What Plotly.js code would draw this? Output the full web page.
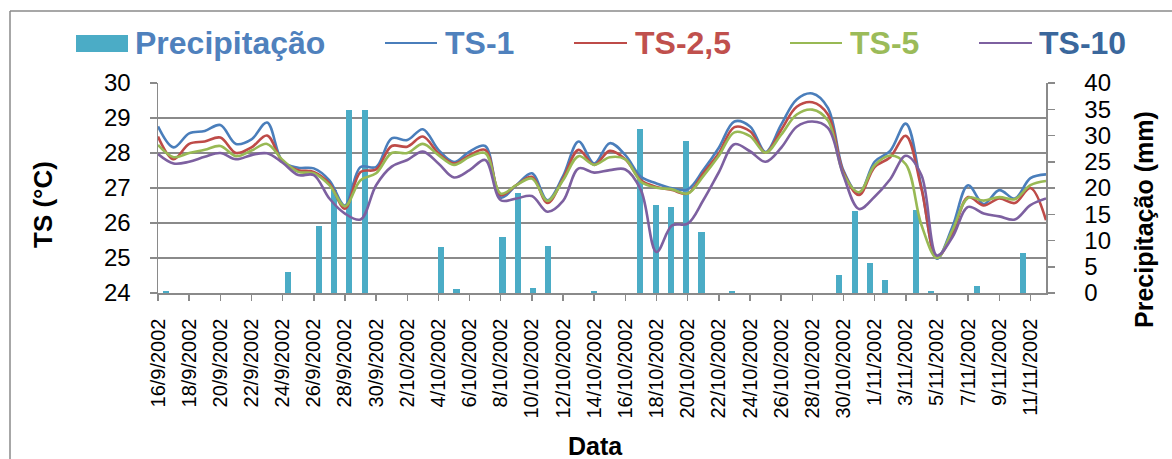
<!DOCTYPE html>
<html><head><meta charset="utf-8">
<script src="https://cdn.plot.ly/plotly-3.0.1.min.js"></script>
<style>html,body{margin:0;padding:0;background:#fff;} #chart{width:1172px;height:459px;}</style>
</head><body><div id="chart"></div>
<script>
const dates = [
 '16/9/2002','17/9/2002','18/9/2002','19/9/2002','20/9/2002','21/9/2002','22/9/2002','23/9/2002','24/9/2002','25/9/2002',
 '26/9/2002','27/9/2002','28/9/2002','29/9/2002','30/9/2002',
 '1/10/2002','2/10/2002','3/10/2002','4/10/2002','5/10/2002','6/10/2002','7/10/2002','8/10/2002','9/10/2002','10/10/2002',
 '11/10/2002','12/10/2002','13/10/2002','14/10/2002','15/10/2002','16/10/2002','17/10/2002','18/10/2002','19/10/2002','20/10/2002',
 '21/10/2002','22/10/2002','23/10/2002','24/10/2002','25/10/2002','26/10/2002','27/10/2002','28/10/2002','29/10/2002','30/10/2002','31/10/2002',
 '1/11/2002','2/11/2002','3/11/2002','4/11/2002','5/11/2002','6/11/2002','7/11/2002','8/11/2002','9/11/2002','10/11/2002','11/11/2002','12/11/2002'
];
const precipitacao = [
 0.4,0,0,0,0,0,0,0,4.0,0,
 12.8,19.6,34.8,34.8,0,
 0,0,0,8.8,0.7,0,0,10.7,19.0,1.0,
 9.0,0,0,0.4,0,0,31.2,16.7,16.3,29.0,
 11.7,0,0.4,0,0,0,0,0,0,3.4,15.6,
 5.7,2.5,0,15.8,0.4,0,0,1.4,0,0,7.6,0
];
const ts1 = [
 28.76,28.16,28.56,28.63,28.80,28.26,28.39,28.87,27.75,27.58,
 27.56,27.22,26.50,27.60,27.60,
 28.42,28.37,28.68,28.09,27.74,28.04,28.20,26.73,27.08,27.42,
 26.65,27.34,28.33,27.70,28.28,27.94,27.32,27.13,26.99,26.96,
 27.51,28.15,28.90,28.76,28.03,28.81,29.53,29.70,29.29,27.50,26.84,
 27.75,28.06,28.84,27.04,24.98,25.90,27.08,26.54,26.94,26.70,27.28,27.39
];
const ts25 = [
 28.47,27.82,28.26,28.33,28.44,28.00,28.16,28.50,27.75,27.51,
 27.46,27.13,26.41,27.46,27.53,
 28.20,28.18,28.47,27.99,27.70,27.94,28.09,26.80,27.08,27.32,
 26.57,27.27,28.09,27.66,28.06,27.82,27.22,27.03,26.94,26.84,
 27.42,27.99,28.74,28.62,28.01,28.66,29.32,29.45,29.10,27.45,26.80,
 27.60,27.88,28.49,26.99,25.02,25.70,26.74,26.50,26.70,26.57,27.00,26.08
];
const ts5 = [
 28.23,27.88,28.00,28.09,28.20,27.91,28.07,28.26,27.80,27.46,
 27.42,27.08,26.48,27.22,27.42,
 28.00,28.00,28.26,27.94,27.66,27.89,28.00,26.84,27.08,27.27,
 26.63,27.22,27.91,27.66,27.88,27.82,27.18,27.01,26.96,26.84,
 27.34,27.92,28.59,28.48,28.01,28.52,29.10,29.24,28.93,27.40,26.88,
 27.65,27.93,27.68,25.95,25.00,25.80,26.72,26.64,26.74,26.68,27.08,27.20
];
const ts10 = [
 27.97,27.70,27.75,27.89,28.00,27.82,27.94,27.99,27.72,27.37,
 27.37,26.70,26.27,26.10,27.08,
 27.61,27.80,28.04,27.70,27.30,27.51,27.80,26.65,26.70,26.77,
 26.32,26.63,27.56,27.44,27.51,27.53,26.94,25.17,25.93,25.98,
 26.65,27.45,28.25,28.05,27.75,28.15,28.75,28.90,28.72,27.35,26.40,
 26.75,27.25,27.92,27.37,25.07,25.60,26.46,26.27,26.19,26.10,26.51,26.70
];
const barName = 'Precipitação';
const seriesNames = ['TS-1','TS-2,5','TS-5','TS-10'];
const seriesValues = [ts1, ts25, ts5, ts10];
const tickLabels = dates.filter((d, i) => i % 2 === 0 && i < dates.length - 1);

// styling
const F = 'Arial, "Liberation Sans", sans-serif';
const GRID = '#8a8a8a';
const BAR = '#4BACC6';
const lineColors = ['#4A7EBB', '#BE4B48', '#98B954', '#7D60A0'];
const legendTextColors = ['#4F81BD', '#C0504D', '#9BBB59', '#3A679C'];
const L = 158, R = 1046, T = 83, B = 293;
const px = x => (x - L) / (R - L);
const py = y => (B - y) / (B - T);

const traces = [{
  type: 'bar', x: dates, y: precipitacao, xaxis: 'x', yaxis: 'y',
  marker: {color: BAR, line: {width: 0}}, width: 0.4, name: barName, showlegend: false, hoverinfo: 'x+y'
}];
seriesValues.forEach((vals, k) => {
  traces.push({
    type: 'scatter', mode: 'lines', x: dates, y: vals, xaxis: 'x2', yaxis: 'y2',
    name: seriesNames[k], showlegend: false,
    line: {color: lineColors[k], width: 2.6, shape: 'spline', smoothing: 1}
  });
});

const shapes = [
  {type: 'line', xref: 'paper', yref: 'paper', x0: px(10), x1: px(10), y0: py(11), y1: py(480), line: {color: GRID, width: 1.5}},
  {type: 'line', xref: 'paper', yref: 'paper', x0: px(10), x1: px(1190), y0: py(11), y1: py(11), line: {color: GRID, width: 1.5}},
  {type: 'rect', xref: 'paper', yref: 'paper', x0: px(76), x1: px(128), y0: py(52), y1: py(35), fillcolor: BAR, line: {width: 0}}
];
const legendLines = [[385, 437], [574, 627], [790, 842], [979, 1032]];
const legendTextX = [443, 633, 848, 1037];
const LEG_Y = 43;
const annotations = [
  {xref: 'paper', yref: 'paper', x: px(133), y: py(LEG_Y), xanchor: 'left', yanchor: 'middle', showarrow: false,
   text: barName, font: {family: F, size: 32, color: '#4F81BD', weight: 'bold'}}
];
seriesNames.forEach((n, k) => {
  shapes.push({type: 'line', xref: 'paper', yref: 'paper', x0: px(legendLines[k][0]), x1: px(legendLines[k][1]),
    y0: py(LEG_Y), y1: py(LEG_Y), line: {color: lineColors[k], width: 2}});
  annotations.push({xref: 'paper', yref: 'paper', x: px(legendTextX[k]), y: py(LEG_Y), xanchor: 'left', yanchor: 'middle',
    showarrow: false, text: n, font: {family: F, size: 32, color: legendTextColors[k], weight: 'bold'}});
});
annotations.push(
  {xref: 'paper', yref: 'paper', x: px(43), y: py(204), xanchor: 'center', yanchor: 'middle', showarrow: false, textangle: -90,
   text: 'TS (°C)', font: {family: F, size: 26, color: '#000', weight: 'bold'}},
  {xref: 'paper', yref: 'paper', x: px(1144), y: py(220), xanchor: 'center', yanchor: 'middle', showarrow: false, textangle: -90,
   text: 'Precipitação (mm)', font: {family: F, size: 25, color: '#000', weight: 'bold'}},
  {xref: 'paper', yref: 'paper', x: px(595), y: py(446), xanchor: 'center', yanchor: 'middle', showarrow: false,
   text: 'Data', font: {family: F, size: 25, color: '#000', weight: 'bold'}}
);

const layout = {
  width: 1172, height: 459,
  margin: {l: L, r: 1172 - R, t: T, b: 459 - B, pad: 0},
  paper_bgcolor: '#fff', plot_bgcolor: '#fff',
  showlegend: false,
  font: {family: F, color: '#000'},
  bargap: 0,
  xaxis: {type: 'category', categoryorder: 'array', categoryarray: dates, range: [-0.5, dates.length - 0.5],
    showticklabels: false, ticks: '', showgrid: false, showline: false, zeroline: false, anchor: 'y', fixedrange: true},
  yaxis: {side: 'right', anchor: 'x', range: [0, 40], tick0: 0, dtick: 5, ticks: 'outside', ticklen: 7, tickwidth: 1.5,
    tickcolor: GRID, showline: true, linecolor: GRID, linewidth: 1.5, showgrid: false, zeroline: false,
    tickfont: {family: F, size: 24, color: '#000'}, ticklabelstandoff: 25},
  xaxis2: {overlaying: 'x', anchor: 'y2', side: 'bottom', type: 'category', categoryorder: 'array', categoryarray: dates,
    range: [0, dates.length - 1], tickmode: 'array', tickvals: tickLabels, ticktext: tickLabels, tickangle: -90,
    ticks: 'outside', ticklen: 6, tickwidth: 1.5, tickcolor: GRID, showline: true, linecolor: GRID, linewidth: 1.5,
    showgrid: false, zeroline: false, tickfont: {family: F, size: 20, color: '#000'}, ticklabelstandoff: 10},
  yaxis2: {overlaying: 'y', anchor: 'x2', side: 'left', range: [24, 30], tick0: 24, dtick: 1, ticks: 'outside', ticklen: 7,
    tickwidth: 1.5, tickcolor: GRID, showline: true, linecolor: GRID, linewidth: 1.5, showgrid: true, gridcolor: GRID,
    gridwidth: 1.5, zeroline: false, tickfont: {family: F, size: 24, color: '#000'}, ticklabelstandoff: 14},
  shapes: shapes,
  annotations: annotations
};
Plotly.newPlot('chart', traces, layout, {displayModeBar: false, staticPlot: true});
</script>
</body></html>
